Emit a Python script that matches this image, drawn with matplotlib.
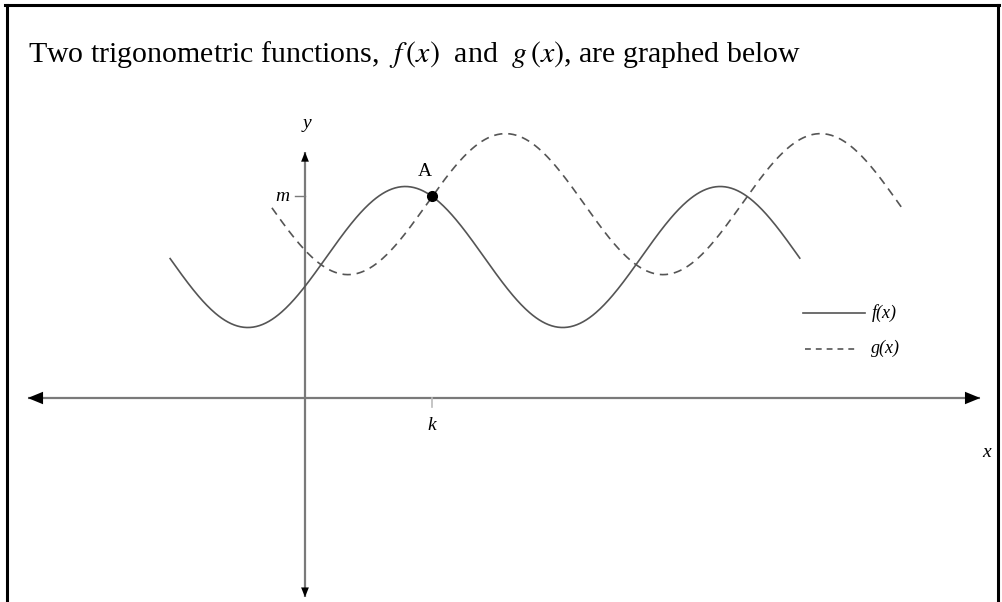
import numpy as np
import matplotlib.pyplot as plt

plt.rcParams['font.family'] = ['Liberation Serif', 'DejaVu Serif']
plt.rcParams['mathtext.fontset'] = 'stix'

# f(x) = amp*cos(x - shift) + mid, g(x) the same shape moved up and right
f_amp, f_shift, f_mid = 2.0, 2.0, 4.0
g_amp, g_shift, g_mid = 2.0, 4.0, 5.5
f_range = [-2.69, 9.87]
g_range = [-0.66, 11.93]

# axis extents (arrow tips)
x_axis = [-5.53, 13.47]
y_axis = [-5.65, 6.98]

def f(x):
    return f_amp * np.cos(x - f_shift) + f_mid

def g(x):
    return g_amp * np.cos(x - g_shift) + g_mid

# point A: where f comes down from its peak and meets g
xs = np.linspace(2, 4, 20001)
d = f(xs) - g(xs)
i = np.where(np.diff(np.sign(d)) != 0)[0][0]
k = xs[i]
m = f(k)

fig = plt.figure(figsize=(10.03, 6.02), dpi=100)
ax = fig.add_axes([0, 0, 1, 1])
ax.set_xlim(-6.084, 13.924)
ax.set_ylim(-5.787, 11.291)
ax.axis('off')

axis_col = '#7a7a7a'
curve_col = '#555555'

# axes with arrow heads
ax.plot(x_axis, [0, 0], color=axis_col, lw=1.6, solid_capstyle='butt')
ax.plot([0, 0], y_axis, color=axis_col, lw=1.6, solid_capstyle='butt')
big = dict(arrowstyle='-|>,head_length=1.1,head_width=0.45', color='black', lw=0,
           shrinkA=0, shrinkB=0)
small = dict(arrowstyle='-|>,head_length=0.7,head_width=0.28', color='black', lw=0,
             shrinkA=0, shrinkB=0)
ax.annotate('', xy=(x_axis[0], 0), xytext=(x_axis[0] + 0.4, 0), arrowprops=big)
ax.annotate('', xy=(x_axis[1], 0), xytext=(x_axis[1] - 0.4, 0), arrowprops=big)
ax.annotate('', xy=(0, y_axis[1]), xytext=(0, y_axis[1] - 0.4), arrowprops=small)
ax.annotate('', xy=(0, y_axis[0]), xytext=(0, y_axis[0] + 0.4), arrowprops=small)

# curves
xf = np.linspace(f_range[0], f_range[1], 600)
xg = np.linspace(g_range[0], g_range[1], 600)
ax.plot(xf, f(xf), color=curve_col, lw=1.2)
ax.plot(xg, g(xg), color=curve_col, lw=1.2, dashes=(5, 3.5))

# point A and its ticks
ax.plot([k], [m], 'o', color='black', ms=7)
ax.plot([-0.2, 0], [m, m], color=axis_col, lw=1.0)
ax.plot([k, k], [0, -0.26], color='#bbbbbb', lw=1.2)

lab = dict(fontsize=14, style='italic', ha='center', va='center')
ax.text(0.04, 7.8, 'y', **lab)
ax.text(13.6, -1.55, 'x', **lab)
ax.text(k, -0.78, 'k', **lab)
ax.text(-0.45, m, 'm', **lab)
ax.text(k - 0.15, m + 0.72, 'A', fontsize=14, ha='center', va='center')

# legend drawn by hand
ax.plot([9.93, 11.18], [2.42, 2.42], color=curve_col, lw=1.2)
ax.plot([9.97, 11.0], [1.4, 1.4], color=curve_col, lw=1.2, dashes=(3.5, 3))
ax.text(11.3, 2.42, 'f(x)', fontsize=13, style='italic', va='center')
ax.text(11.3, 1.4, 'g(x)', fontsize=13, style='italic', va='center')

# caption at the top
fig.text(0.028, 0.897,
         r'Two trigonometric functions,  $f\,(x)$  and  $g\,(x)$, are graphed below',
         fontsize=21.5, va='baseline')

# frame on left, top and right
ax.plot([0.0065, 0.0065], [0, 0.991], transform=fig.transFigure, color='black', lw=2.2)
ax.plot([0.005, 0.9965], [0.991, 0.991], transform=fig.transFigure, color='black', lw=2.2)
ax.plot([0.995, 0.995], [0, 0.991], transform=fig.transFigure, color='black', lw=2.2)

fig.savefig('out.png', dpi=100)
